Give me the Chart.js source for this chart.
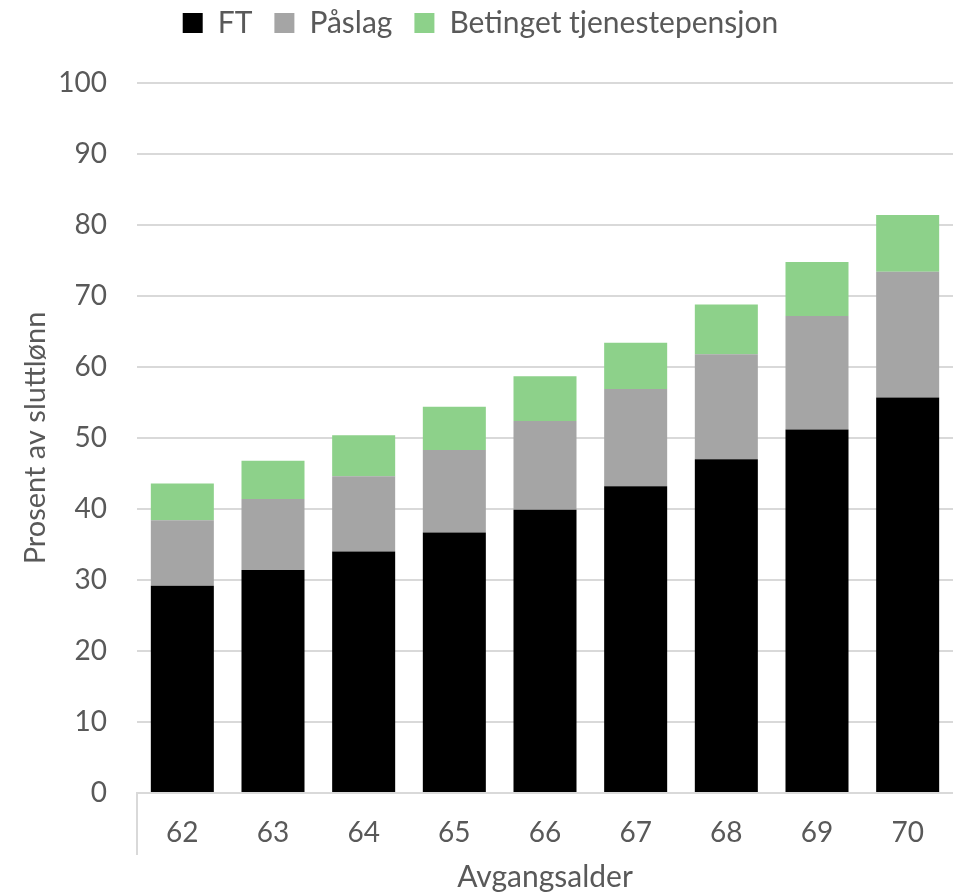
<!DOCTYPE html>
<html>
<head>
<meta charset="utf-8">
<script src="https://cdn.jsdelivr.net/npm/chart.js@4.4.1/dist/chart.umd.min.js"></script>
<style>
  html, body { margin: 0; padding: 0; background: #fff; }
</style>
</head>
<body>
<canvas id="pensjonChart" width="953" height="895"></canvas>
<script>
// data
const ages = ['62', '63', '64', '65', '66', '67', '68', '69', '70'];
const ft = [29.2, 31.4, 34.0, 36.7, 39.9, 43.2, 47.0, 51.2, 55.7];
const paslag = [9.2, 10.0, 10.6, 11.6, 12.5, 13.7, 14.8, 16.0, 17.7];
const betinget = [5.2, 5.4, 5.8, 6.1, 6.3, 6.5, 7.0, 7.6, 8.0];
const yMin = 0, yMax = 100, yStep = 10;

const textColor = '#595959';
const gridColor = '#d9d9d9';
const fontFamily = 'Lato, "Open Sans", sans-serif';

// fixed legend band so the plot starts where the reference does,
// then nudge the legend row up a bit
const legendBand = {
    id: 'legendBand',
    beforeInit(chart) {
        const fit = chart.legend.fit;
        chart.legend.fit = function () {
            fit.call(this);
            this.height = 83;
        };
    },
    afterLayout(chart) {
        chart.legend.top -= 14;
        chart.legend.left += 8;
    }
};

const ctx = document.getElementById('pensjonChart').getContext('2d');
const chart = new Chart(ctx, {
    type: 'bar',
    data: {
        labels: ages,
        datasets: [
            { label: 'FT', data: ft, backgroundColor: '#000000' },
            { label: 'Påslag', data: paslag, backgroundColor: '#a5a5a5' },
            { label: 'Betinget tjenestepensjon', data: betinget, backgroundColor: '#8dd18a' }
        ]
    },
    options: {
        responsive: false,
        animation: false,
        layout: { padding: 0 },
        datasets: {
            bar: { barPercentage: 0.695, categoryPercentage: 1.0 }
        },
        plugins: {
            legend: {
                position: 'top',
                labels: {
                    boxWidth: 20,
                    boxHeight: 20,
                    padding: 22,
                    color: textColor,
                    font: { family: fontFamily, size: 30 }
                }
            },
            tooltip: { enabled: false }
        },
        scales: {
            x: {
                stacked: true,
                grid: {
                    offset: true,
                    drawOnChartArea: false,
                    drawTicks: true,
                    tickLength: 62,
                    lineWidth: 2,
                    color: (c) => c.index === 0 ? gridColor : 'rgba(0,0,0,0)'
                },
                border: { display: true, color: gridColor, width: 2 },
                ticks: {
                    color: textColor,
                    padding: -39,
                    font: { family: fontFamily, size: 28 }
                },
                title: {
                    display: true,
                    text: 'Avgangsalder',
                    color: textColor,
                    padding: { top: 4, bottom: 0 },
                    font: { family: fontFamily, size: 30 }
                },
                afterFit(scale) { scale.height = 102; }
            },
            y: {
                stacked: true,
                min: yMin,
                max: yMax,
                grid: {
                    color: gridColor,
                    lineWidth: 2,
                    drawTicks: false
                },
                border: { display: false },
                ticks: {
                    stepSize: yStep,
                    color: textColor,
                    padding: 30,
                    font: { family: fontFamily, size: 28 }
                },
                title: {
                    display: true,
                    text: 'Prosent av sluttlønn',
                    color: textColor,
                    padding: { top: 18, bottom: 0 },
                    font: { family: fontFamily, size: 29 }
                },
                afterFit(scale) { scale.width = 137; }
            }
        }
    },
    plugins: [legendBand]
});
</script>
</body>
</html>
